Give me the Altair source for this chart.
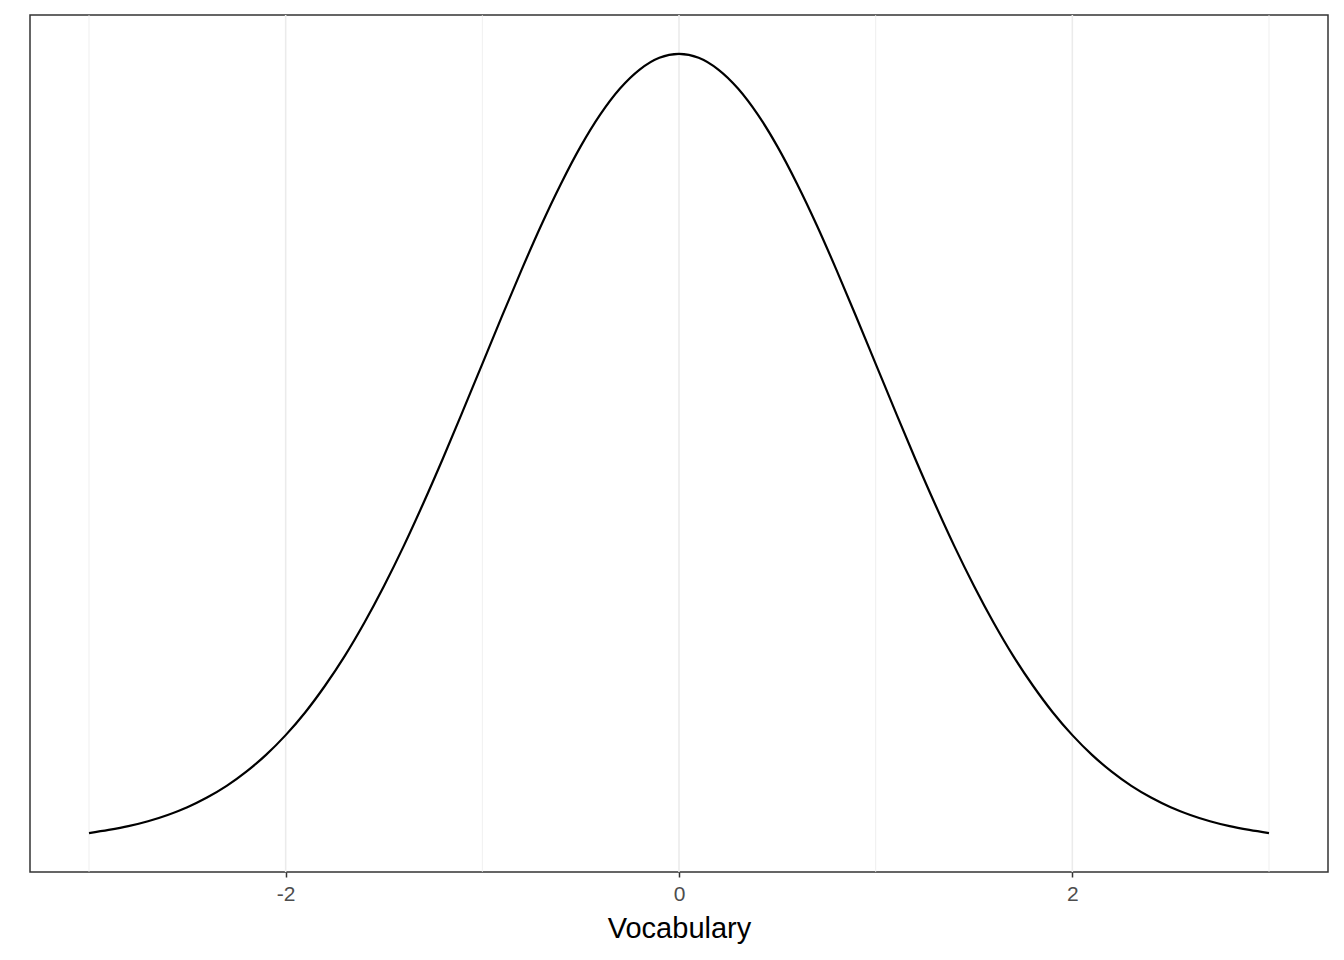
import altair as alt
import pandas as pd

# values (x, density)
x_vals = [round(-3 + 0.1 * i, 1) for i in range(61)]
half = [0.0044, 0.0060, 0.0079, 0.0104, 0.0136, 0.0175, 0.0224, 0.0283, 0.0355, 0.0440,
        0.0540, 0.0656, 0.0790, 0.0940, 0.1109, 0.1295, 0.1497, 0.1714, 0.1942, 0.2179,
        0.2420, 0.2661, 0.2897, 0.3123, 0.3332, 0.3521, 0.3683, 0.3814, 0.3910, 0.3970]
peak = [0.3989]
y_vals = half + peak + half[::-1]

major_breaks = [-2, 0, 2]
minor_breaks = [-3, -1, 1, 3]

df = pd.DataFrame({"x": x_vals, "y": y_vals})
major_df = pd.DataFrame({"x": major_breaks})
minor_df = pd.DataFrame({"x": minor_breaks})

xscale = alt.Scale(domain=[-3.3, 3.3], nice=False, zero=False)
yscale = alt.Scale(domain=[-0.0153, 0.4186], nice=False, zero=False)

xaxis = alt.Axis(
    values=major_breaks,
    grid=False,
    domain=False,
    tickColor="#333333",
    tickSize=5,
    tickWidth=1.5,
    labelColor="#4D4D4D",
    labelFont="Liberation Sans",
    labelFontSize=21,
    labelPadding=6,
    labelExpr="replace(datum.label, '\u2212', '-')",
    titleFont="Liberation Sans",
    titleFontSize=29,
    titleFontWeight="normal",
    titleColor="black",
    titlePadding=10,
)


def xenc():
    return alt.X("x:Q", scale=xscale, title="Vocabulary", axis=xaxis)


minor = alt.Chart(minor_df).mark_rule(color="#EBEBEB", strokeWidth=0.8).encode(x=xenc())
major = alt.Chart(major_df).mark_rule(color="#EBEBEB", strokeWidth=1.6).encode(x=xenc())

line = alt.Chart(df).mark_line(color="black", strokeWidth=2.2, interpolate="monotone").encode(
    x=xenc(),
    y=alt.Y("y:Q", scale=yscale, axis=None),
)

chart = (
    alt.layer(minor, major, line)
    .properties(
        width=1298,
        height=857,
        autosize=alt.AutoSizeParams(type="none"),
        padding={"left": 22, "top": 7, "right": 8, "bottom": 80},
    )
    .configure_view(stroke="#333333", strokeWidth=1.5)
)

chart.save("out.html", embed_options={"renderer": "svg", "actions": False})
